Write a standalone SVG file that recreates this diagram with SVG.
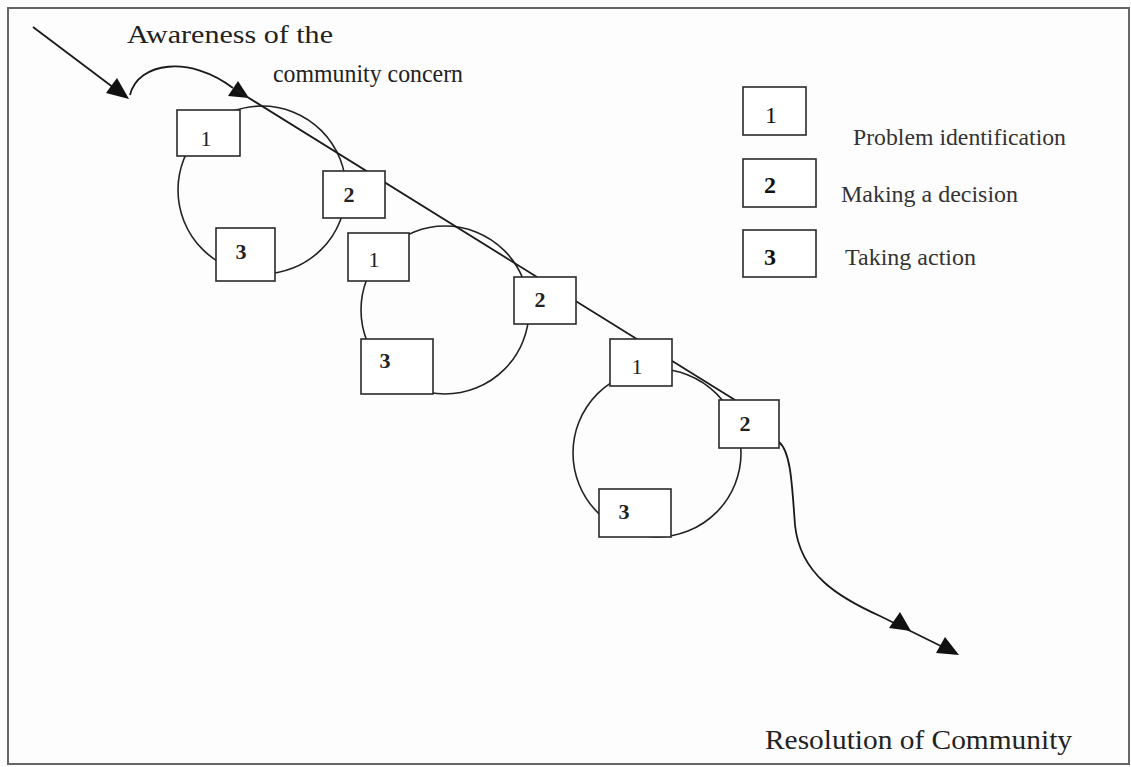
<svg xmlns="http://www.w3.org/2000/svg" width="1131" height="767" viewBox="0 0 1131 767">
<style>
.box{fill:#fff;stroke:#2a2a2a;stroke-width:1.6}
.ring{fill:none;stroke:#222;stroke-width:1.6}
.ln{fill:none;stroke:#1a1a1a;stroke-width:1.8}
.head{fill:#111;stroke:none}
.dg{font-family:"Liberation Serif","Times New Roman",serif;font-size:22px;fill:#222;text-anchor:middle}
.lg{font-family:"Liberation Serif","Times New Roman",serif;font-size:24px;fill:#111;text-anchor:middle}
.b{font-weight:bold}
.lbl{font-family:"Liberation Serif","Times New Roman",serif;font-size:23px;fill:#333}
.ttl{font-family:"Liberation Serif","Times New Roman",serif;font-size:26px;fill:#222}
</style>
<rect x="0" y="0" width="1131" height="767" fill="#fdfdfd"/>
<rect x="8" y="8" width="1121" height="756" fill="none" stroke="#666" stroke-width="2"/>

<g id="circles">
<circle class="ring" cx="262" cy="190" r="84"/>
<circle class="ring" cx="445" cy="310" r="84"/>
<circle class="ring" cx="657" cy="453" r="84"/>
</g>

<g id="connectors">
<line class="ln" x1="33" y1="27" x2="118" y2="91"/>
<polygon class="head" points="129,99 106,93 117,78"/>
<path class="ln" d="M130,95 C138,62 190,55 233,88"/>
<polygon class="head" points="249,98 228,96 238,81"/>
<line class="ln" x1="236" y1="90" x2="735" y2="400"/>
<path class="ln" d="M779,442 C791,452 792,485 795,525 C800,575 840,598 880,616 L955,653"/>
<polygon class="head" points="911,631 889,628 900,612"/>
<polygon class="head" points="959,655 936,653 945,637"/>
</g>

<g id="cycle1">
<g id="c1n1"><rect class="box" x="177" y="110" width="63" height="46"/><text class="dg" x="206" y="146">1</text></g>
<g id="c1n2"><rect class="box" x="323" y="171" width="62" height="47"/><text class="dg b" x="349" y="202">2</text></g>
<g id="c1n3"><rect class="box" x="216" y="228" width="59" height="53"/><text class="dg b" x="241" y="259">3</text></g>
</g>
<g id="cycle2">
<g id="c2n1"><rect class="box" x="348" y="233" width="61" height="48"/><text class="dg" x="374" y="267">1</text></g>
<g id="c2n2"><rect class="box" x="514" y="277" width="62" height="47"/><text class="dg b" x="540" y="307">2</text></g>
<g id="c2n3"><rect class="box" x="361" y="339" width="72" height="55"/><text class="dg b" x="385" y="368">3</text></g>
</g>
<g id="cycle3">
<g id="c3n1"><rect class="box" x="610" y="339" width="62" height="47"/><text class="dg" x="637" y="374">1</text></g>
<g id="c3n2"><rect class="box" x="719" y="400" width="60" height="48"/><text class="dg b" x="745" y="431">2</text></g>
<g id="c3n3"><rect class="box" x="599" y="489" width="72" height="48"/><text class="dg b" x="624" y="519">3</text></g>
</g>

<g id="legend">
<g id="leg1"><rect class="box" x="743" y="87" width="63" height="48"/><text class="lg" x="771" y="123">1</text><text class="lbl" x="853" y="145" textLength="213" lengthAdjust="spacingAndGlyphs">Problem identification</text></g>
<g id="leg2"><rect class="box" x="743" y="159" width="73" height="48"/><text class="lg b" x="770" y="193">2</text><text class="lbl" x="841" y="202" textLength="177" lengthAdjust="spacingAndGlyphs">Making a decision</text></g>
<g id="leg3"><rect class="box" x="743" y="230" width="73" height="47"/><text class="lg b" x="770" y="265">3</text><text class="lbl" x="845" y="265" textLength="131" lengthAdjust="spacingAndGlyphs">Taking action</text></g>
</g>

<g id="labels">
<text class="ttl" x="127" y="43" textLength="206" lengthAdjust="spacingAndGlyphs">Awareness of the</text>
<text class="ttl" x="273" y="82" textLength="190" lengthAdjust="spacingAndGlyphs">community concern</text>
<text class="ttl" x="765" y="749" style="font-size:27px" textLength="307" lengthAdjust="spacingAndGlyphs">Resolution of Community</text>
</g>
</svg>
